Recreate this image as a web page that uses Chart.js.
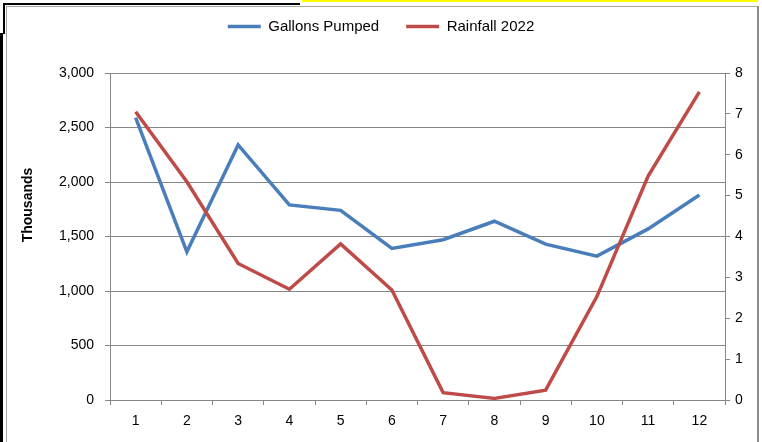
<!DOCTYPE html>
<html><head><meta charset="utf-8">
<script src="https://cdn.jsdelivr.net/npm/chart.js@4"></script>
<style>
html,body{margin:0;padding:0;background:#fff;}
body{width:762px;height:442px;position:relative;overflow:hidden;}
.b{position:absolute;}
#c{position:absolute;left:0;top:-8px;width:762px;height:450px;}
</style></head><body>
<div class="b" style="left:3px;top:3px;width:297px;height:2px;background:#000"></div>
<div class="b" style="left:3px;top:3px;width:2px;height:31px;background:#000"></div>
<div class="b" style="left:0;top:33px;width:3px;height:409px;background:#000"></div>
<div class="b" style="left:302px;top:0;width:456px;height:2px;background:#ff0"></div>
<div class="b" style="left:6px;top:6px;width:750px;height:440px;border-left:1px solid #a6a6a6;border-top:1px solid #a6a6a6;border-right:2px solid #8c8c8c;"></div>
<canvas id="c" width="762" height="450"></canvas>
<script>
const categories = ['1','2','3','4','5','6','7','8','9','10','11','12'];
const gallonsPumped = [2590,1360,2340,1790,1740,1390,1470,1640,1430,1320,1570,1880];
const rainfall2022 = [7.05,5.34,3.34,2.71,3.82,2.69,0.18,0.04,0.24,2.53,5.48,7.54];
const leftTicks = [0,500,1000,1500,2000,2500,3000];
const rightTicks = [0,1,2,3,4,5,6,7,8];
const seriesNames = ['Gallons Pumped','Rainfall 2022'];
const yTitle = 'Thousands';

const FONT = '"Liberation Sans", Arial, sans-serif';
const AXIS = '#868686';

const axisTitlePlugin = {
  id: 'axisTitle',
  afterDraw(chart) {
    const ctx = chart.ctx;
    ctx.save();
    ctx.translate(28, 213);
    ctx.rotate(-Math.PI / 2);
    ctx.font = 'bold 14px ' + FONT;
    ctx.fillStyle = '#000';
    ctx.textAlign = 'center';
    ctx.textBaseline = 'middle';
    ctx.fillText(yTitle, 0, 0);
    ctx.restore();
  }
};

new Chart(document.getElementById('c'), {
  type: 'line',
  data: {
    labels: categories,
    datasets: [
      { label: seriesNames[0], data: gallonsPumped, yAxisID: 'y', borderColor: '#4A7EBB', backgroundColor: '#4A7EBB',
        borderWidth: 3.5, pointRadius: 0, tension: 0, order: 1 },
      { label: seriesNames[1], data: rainfall2022, yAxisID: 'y1', borderColor: '#BE4B48', backgroundColor: '#BE4B48',
        borderWidth: 3.5, pointRadius: 0, tension: 0, order: 0 }
    ]
  },
  options: {
    responsive: false,
    animation: false,
    devicePixelRatio: 1,
    layout: { padding: { top: 0, left: 0, right: 0, bottom: 0 } },
    plugins: {
      legend: {
        position: 'top',
        labels: {
          usePointStyle: true, pointStyle: 'line', pointStyleWidth: 33,
          padding: 27, color: '#000', font: { size: 15, family: FONT },
          sort: (a, b) => a.datasetIndex - b.datasetIndex
        }
      },
      title: { display: true, text: '', weight: 500, font: { size: 10, lineHeight: 1 }, padding: { top: 19, bottom: 0 } },
      tooltip: { enabled: false }
    },
    scales: {
      x: {
        type: 'category', offset: true,
        grid: { offset: true, drawOnChartArea: false, color: AXIS, tickLength: 5 },
        border: { color: AXIS },
        ticks: { color: '#000', font: { size: 14, family: FONT }, padding: 8, maxRotation: 0, autoSkip: false },
        afterFit: s => { s.height = 42; }
      },
      y: {
        position: 'left', min: 0, max: 3000,
        grid: { color: AXIS, tickLength: 5 },
        border: { color: AXIS },
        ticks: { color: '#000', font: { size: 14, family: FONT }, padding: 11,
          callback: v => v.toLocaleString('en-US') },
        afterBuildTicks: s => { s.ticks = leftTicks.map(v => ({ value: v })); },
        afterFit: s => { s.width = 110; }
      },
      y1: {
        position: 'right', min: 0, max: 8,
        grid: { drawOnChartArea: false, color: AXIS, tickLength: 5 },
        border: { color: AXIS },
        ticks: { color: '#000', font: { size: 14, family: FONT }, padding: 5 },
        afterBuildTicks: s => { s.ticks = rightTicks.map(v => ({ value: v })); },
        afterFit: s => { s.width = 37; }
      }
    }
  },
  plugins: [axisTitlePlugin]
});
</script>
</body></html>
